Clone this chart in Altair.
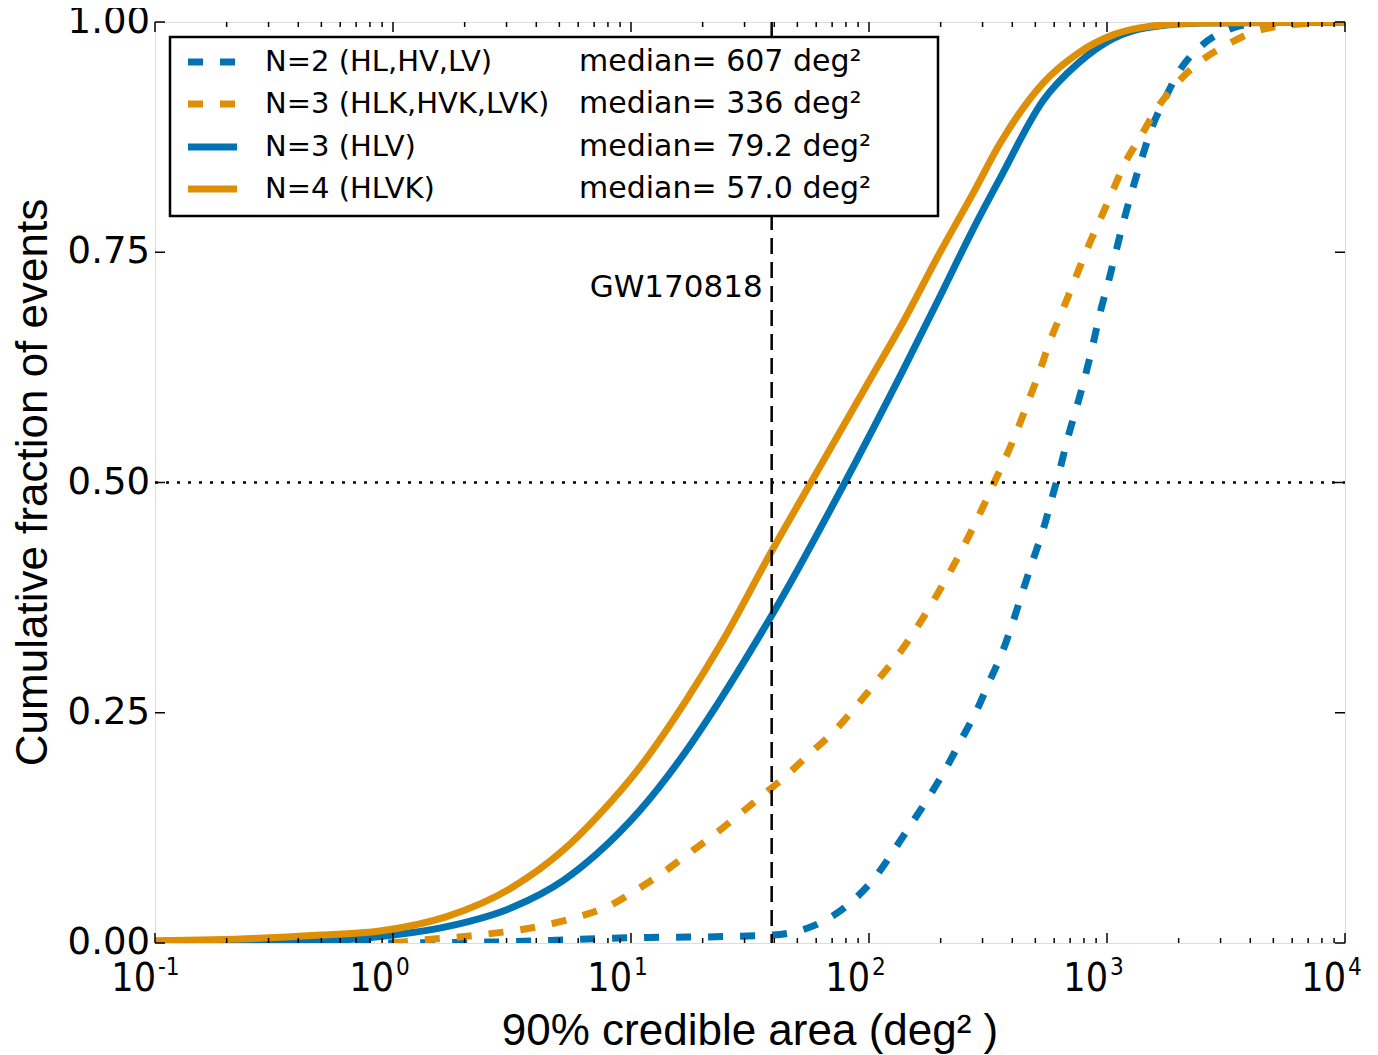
import altair as alt
import pandas as pd
import numpy as np

# ---------------- data ----------------
n2_area = [0.7, 2.5, 4.8, 7.7, 12, 25, 39.5, 52, 70, 89,
           108, 129, 153, 180, 212, 248, 284, 322, 366, 403,
           444, 489, 538, 587, 635, 687, 746, 809, 875, 935,
           1014, 1091, 1178, 1282, 1400, 1542, 1754, 2028, 2460, 3184,
           3890, 10000]
n2_frac = [0.0, 0.001, 0.003, 0.005, 0.006, 0.007, 0.0087, 0.014, 0.029, 0.050,
           0.074, 0.103, 0.132, 0.160, 0.191, 0.224, 0.253, 0.285, 0.318, 0.349,
           0.383, 0.416, 0.448, 0.483, 0.515, 0.550, 0.582, 0.615, 0.651, 0.684,
           0.718, 0.751, 0.785, 0.819, 0.852, 0.885, 0.917, 0.948, 0.973, 0.991,
           0.997, 1.0]

n3k_area = [1.0, 1.3, 2.3, 4.4, 6.1, 7.9, 10.9, 13.5, 17.1, 22.2,
            28.3, 36, 45, 56.5, 70.8, 87, 106, 131, 184, 248,
            336, 417, 467, 520, 575, 646, 727, 817, 919, 1047,
            1180, 1380, 1620, 1960, 2460, 3180, 4120, 6000, 10000]
n3k_frac = [0.0, 0.003, 0.0087, 0.0195, 0.029, 0.039, 0.060, 0.0757, 0.0955, 0.117,
            0.139, 0.161, 0.182, 0.206, 0.229, 0.255, 0.282, 0.311, 0.369, 0.429,
            0.50, 0.555, 0.588, 0.620, 0.653, 0.685, 0.718, 0.751, 0.781, 0.814,
            0.845, 0.875, 0.906, 0.933, 0.957, 0.975, 0.989, 0.997, 1.0]

hlv_area = [0.1, 0.3, 0.5, 0.88, 1.68, 3.2, 5.2, 7.2, 10.9,
            17.1, 23.7, 33.7, 39.5, 79.2, 141, 197, 275, 355, 540,
            755, 1060, 1480, 2500, 10000]
hlv_frac = [0.0, 0.001, 0.002, 0.007, 0.0177, 0.039, 0.068, 0.097, 0.144,
            0.209, 0.264, 0.328, 0.358, 0.50, 0.625, 0.70, 0.776, 0.830, 0.915,
            0.955, 0.982, 0.994, 0.999, 1.0]

hlvk_area = [0.1, 0.26, 0.5, 0.88, 1.68, 3.2, 5.2, 7.2, 10.9, 17.1,
             24.4, 39.5, 57.0, 100, 141, 197, 275, 355, 540, 755,
             1060, 1480, 2500, 10000]
hlvk_frac = [0.0025, 0.005, 0.0087, 0.013, 0.0286, 0.061, 0.101, 0.137, 0.191, 0.264,
             0.329, 0.428, 0.50, 0.610, 0.677, 0.748, 0.815, 0.868, 0.934, 0.966,
             0.986, 0.995, 0.999, 1.0]

series_labels = ["N=2 (HL,HV,LV)", "N=3 (HLK,HVK,LVK)", "N=3 (HLV)", "N=4 (HLVK)"]
medians = ["607", "336", "79.2", "57.0"]

gw_area = 39
gw_label = "GW170818"

x_major = [0.1, 1, 10, 100, 1000, 10000]
x_exponents = ["-1", "0", "1", "2", "3", "4"]
y_ticks = [0.0, 0.25, 0.5, 0.75, 1.0]

x_title = "90% credible area (deg² )"
y_title = "Cumulative fraction of events"

# ---------------- styling ----------------
BLUE = "#0173b2"
ORANGE = "#de8f05"
DASH = [15, 17]
W, H = 1190, 921
XMIN, XMAX = 0.1, 10000.0
LW = 7

x_minor = [k * 10.0 ** e for e in range(-1, 4) for k in range(2, 10)]


def px_to_x(px):
    return 10 ** (np.log10(XMIN) + px / W * (np.log10(XMAX) - np.log10(XMIN)))


def py_to_y(py):
    return 1 - py / H


xscale = alt.Scale(type="log", domain=[XMIN, XMAX], nice=False)
yscale = alt.Scale(domain=[0, 1], nice=False, zero=False)

# ---------------- curves ----------------
curve_specs = [
    (n2_area, n2_frac, BLUE, DASH),
    (n3k_area, n3k_frac, ORANGE, DASH),
    (hlv_area, hlv_frac, BLUE, None),
    (hlvk_area, hlvk_frac, ORANGE, None),
]

layers = []
for (xs, ys, col, dash) in curve_specs:
    df = pd.DataFrame({"area": xs, "frac": ys})
    kw = dict(color=col, strokeWidth=LW, clip=True, interpolate="monotone")
    if dash:
        kw["strokeDash"] = dash
    layers.append(
        alt.Chart(df).mark_line(**kw).encode(
            x=alt.X("area:Q", scale=xscale, axis=None),
            y=alt.Y("frac:Q", scale=yscale, axis=None),
            order=alt.Order("area:Q"),
        )
    )

# ---------------- reference lines ----------------
one = pd.DataFrame({"v": [0.5]})
layers.append(
    alt.Chart(one).mark_rule(color="black", strokeWidth=2.5, strokeDash=[3, 8]).encode(
        y=alt.Y("v:Q", scale=yscale, axis=None), x=alt.value(0), x2=alt.value(W)
    )
)
gw_df = pd.DataFrame({"a": [gw_area], "t": [gw_label], "yy": [py_to_y(266)]})
layers.append(
    alt.Chart(gw_df).mark_rule(color="black", strokeWidth=2.5, strokeDash=[16, 8]).encode(
        x=alt.X("a:Q", scale=xscale, axis=None), y=alt.value(0), y2=alt.value(H)
    )
)
layers.append(
    alt.Chart(gw_df).mark_text(font="DejaVu Sans", fontSize=31, align="right",
                               baseline="middle", dx=-9, color="black").encode(
        x=alt.X("a:Q", scale=xscale, axis=None),
        y=alt.Y("yy:Q", scale=yscale, axis=None),
        text="t:N",
    )
)

# ---------------- inward ticks ----------------
maj_df = pd.DataFrame({"x": x_major})
min_df = pd.DataFrame({"x": x_minor})
yt_df = pd.DataFrame({"y": y_ticks})
tick_kw = dict(color="black", strokeWidth=1.5)
for d, ln in ((maj_df, 10), (min_df, 5)):
    layers.append(alt.Chart(d).mark_rule(**tick_kw).encode(
        x=alt.X("x:Q", scale=xscale, axis=None), y=alt.value(H), y2=alt.value(H - ln)))
    layers.append(alt.Chart(d).mark_rule(**tick_kw).encode(
        x=alt.X("x:Q", scale=xscale, axis=None), y=alt.value(0), y2=alt.value(ln)))
layers.append(alt.Chart(yt_df).mark_rule(**tick_kw).encode(
    y=alt.Y("y:Q", scale=yscale, axis=None), x=alt.value(0), x2=alt.value(10)))
layers.append(alt.Chart(yt_df).mark_rule(**tick_kw).encode(
    y=alt.Y("y:Q", scale=yscale, axis=None), x=alt.value(W), x2=alt.value(W - 10)))

# ---------------- y tick labels ----------------
layers.append(alt.Chart(yt_df).mark_text(font="DejaVu Sans", fontSize=37, align="right",
                                         baseline="middle", dx=-5, color="black").encode(
    y=alt.Y("y:Q", scale=yscale, axis=None), x=alt.value(0),
    text=alt.Text("y:Q", format=".2f")))

# ---------------- x tick labels (10 with superscript) ----------------
xl_df = pd.DataFrame({"x": x_major, "e": x_exponents, "b": ["10"] * len(x_major)})
XFONT = "Liberation Sans Narrow, DejaVu Sans Condensed, Liberation Sans"
layers.append(alt.Chart(xl_df).mark_text(font=XFONT, fontSize=39, align="right",
                                         baseline="alphabetic", dx=1, color="black").encode(
    x=alt.X("x:Q", scale=xscale, axis=None), y=alt.value(H + 48), text="b:N"))
layers.append(alt.Chart(xl_df).mark_text(font=XFONT, fontSize=24, align="left",
                                         baseline="alphabetic", dx=3, color="black").encode(
    x=alt.X("x:Q", scale=xscale, axis=None), y=alt.value(H + 32), text="e:N"))

# ---------------- axis titles ----------------
t_df = pd.DataFrame({"xt": [x_title], "yt": [y_title]})
layers.append(alt.Chart(t_df).mark_text(font="Liberation Sans", fontSize=44, align="center",
                                        baseline="alphabetic", color="black").encode(
    x=alt.value(W / 2), y=alt.value(H + 102), text="xt:N"))
layers.append(alt.Chart(t_df).mark_text(font="Liberation Sans", fontSize=44, align="center",
                                        baseline="alphabetic", angle=270, color="black").encode(
    x=alt.value(-108), y=alt.value(H / 2), text="yt:N"))

# ---------------- legend ----------------
box_df = pd.DataFrame({"x1": [px_to_x(15)], "x2": [px_to_x(783)],
                       "y1": [py_to_y(15)], "y2": [py_to_y(194)]})
layers.append(alt.Chart(box_df).mark_rect(fill="white", stroke="black", strokeWidth=2.5).encode(
    x=alt.X("x1:Q", scale=xscale, axis=None), x2="x2:Q",
    y=alt.Y("y1:Q", scale=yscale, axis=None), y2="y2:Q"))

row_py = [40, 82, 125, 167]
leg_df = pd.DataFrame({
    "series": series_labels,
    "label": series_labels,
    "med": ["median= " + m + " deg²" for m in medians],
    "ly": [py_to_y(p) for p in row_py],
    "sx1": [px_to_x(33)] * 4,
    "sx2": [px_to_x(82)] * 4,
    "tx1": [px_to_x(110)] * 4,
    "tx2": [px_to_x(424)] * 4,
})
layers.append(alt.Chart(leg_df).mark_rule(strokeWidth=LW).encode(
    x=alt.X("sx1:Q", scale=xscale, axis=None), x2="sx2:Q",
    y=alt.Y("ly:Q", scale=yscale, axis=None),
    color=alt.Color("series:N", scale=alt.Scale(domain=series_labels,
                                                range=[BLUE, ORANGE, BLUE, ORANGE]), legend=None),
    strokeDash=alt.StrokeDash("series:N", scale=alt.Scale(domain=series_labels,
                                                          range=[DASH, DASH, [1, 0], [1, 0]]), legend=None),
))
layers.append(alt.Chart(leg_df).mark_text(font="DejaVu Sans", fontSize=29, align="left",
                                          baseline="middle", color="black").encode(
    x=alt.X("tx1:Q", scale=xscale, axis=None), y=alt.Y("ly:Q", scale=yscale, axis=None),
    text="label:N"))
layers.append(alt.Chart(leg_df).mark_text(font="DejaVu Sans", fontSize=30, align="left",
                                          baseline="middle", color="black").encode(
    x=alt.X("tx2:Q", scale=xscale, axis=None), y=alt.Y("ly:Q", scale=yscale, axis=None),
    text="med:N"))

chart = alt.layer(*layers).properties(
    width=W, height=H,
    autosize=alt.AutoSizeParams(type="none"),
    padding={"left": 147, "top": 14, "right": 25, "bottom": 112},
).configure_view(stroke="black", strokeWidth=2.5).configure(background="white")

chart.save("out.html", embed_options={"renderer": "svg", "actions": False})
